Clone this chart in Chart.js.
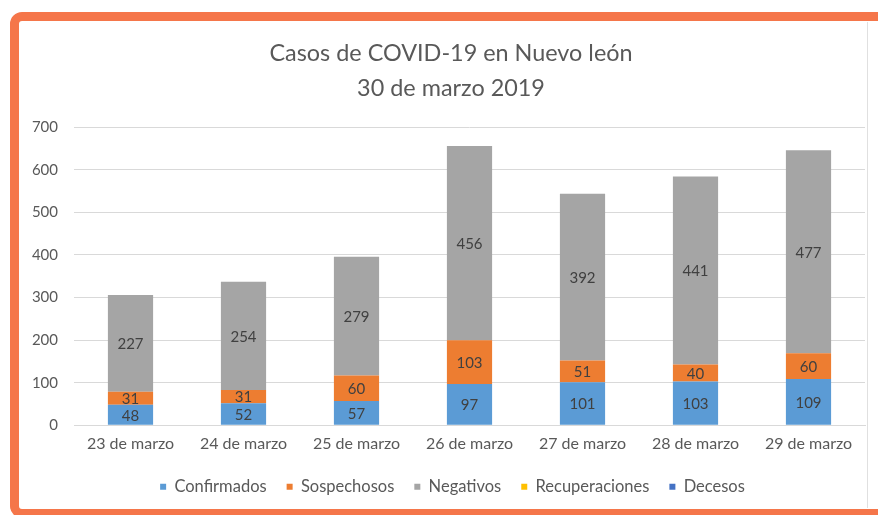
<!DOCTYPE html>
<html>
<head>
<meta charset="utf-8">
<script src="https://cdn.jsdelivr.net/npm/chart.js@4.4.0/dist/chart.umd.min.js"></script>
<style>
  html, body { margin: 0; padding: 0; background: #fff; overflow: hidden; }
  #wrap { position: relative; width: 878px; height: 515px; }
  #frame { position: absolute; left: 10px; top: 12px; width: 900px; height: 488px;
           border: 9px solid #f5764a; border-radius: 12px; }
  #edge { position: absolute; left: 867px; top: 22px; width: 1px; height: 486px; background: #e0e0e0; }
  #canvas { position: absolute; left: 0; top: 0; }
</style>
</head>
<body>
<div id="wrap">
  <div id="frame"></div>
  <div id="edge"></div>
  <canvas id="canvas" width="878" height="515"></canvas>
</div>
<script>
var canvas = document.getElementById("canvas");
var ctx = canvas.getContext("2d");

// data
const labels = ["23 de marzo", "24 de marzo", "25 de marzo", "26 de marzo", "27 de marzo", "28 de marzo", "29 de marzo"];
const confirmados = [48, 52, 57, 97, 101, 103, 109];
const sospechosos = [31, 31, 60, 103, 51, 40, 60];
const negativos = [227, 254, 279, 456, 392, 441, 477];
const recuperaciones = [0, 0, 0, 0, 0, 0, 0];
const decesos = [0, 0, 0, 0, 0, 0, 0];
const yTicks = [0, 100, 200, 300, 400, 500, 600, 700];

const textColor = "#595959";
const font = "Lato, 'Open Sans', sans-serif";

// labels in the middle of each segment
const segmentLabels = {
    id: "segmentLabels",
    afterLayout(chart) {
        // title and legend sit a bit right of the canvas centre in the original
        chart.titleBlock.left += 8.5;
        chart.titleBlock.right += 8.5;
        chart.legend.left += 10;
        chart.legend.right += 10;
    },
    afterDatasetsDraw(chart) {
        const c = chart.ctx;
        c.save();
        c.font = "15px " + font;
        c.fillStyle = "#404040";
        c.textAlign = "center";
        c.textBaseline = "middle";
        chart.data.datasets.forEach((ds, i) => {
            const meta = chart.getDatasetMeta(i);
            meta.data.forEach((bar, j) => {
                if (!ds.data[j]) return;
                c.fillText(ds.data[j], bar.x, (bar.y + bar.base) / 2 + 1);
            });
        });
        c.restore();
    }
};

function ds(label, data, color) {
    return { label: label, data: data, backgroundColor: color, borderWidth: 0,
             categoryPercentage: 1, barPercentage: 0.4 };
}

var myChart = new Chart(ctx, {
    type: "bar",
    data: {
        labels: labels,
        datasets: [
            ds("Confirmados", confirmados, "#5b9bd5"),
            ds("Sospechosos", sospechosos, "#ed7d31"),
            ds("Negativos", negativos, "#a5a5a5"),
            ds("Recuperaciones", recuperaciones, "#ffc000"),
            ds("Decesos", decesos, "#4472c4")
        ]
    },
    options: {
        responsive: false,
        animation: false,
        layout: { padding: { left: 20, right: 13, top: 0, bottom: 10 } },
        plugins: {
            title: {
                display: true,
                text: ["Casos de COVID-19 en Nuevo león", "30 de marzo 2019"],
                color: textColor,
                font: { family: font, size: 23.4, weight: "normal", lineHeight: 1.5 },
                padding: { top: 36, bottom: 21 }
            },
            legend: {
                position: "bottom",
                labels: {
                    color: textColor,
                    font: { family: font, size: 16.5 },
                    boxWidth: 6, boxHeight: 6, padding: 20
                }
            },
            tooltip: { enabled: false }
        },
        scales: {
            x: {
                stacked: true,
                afterFit: s => { s.height += 4; },
                grid: { display: false },
                border: { color: "#d9d9d9" },
                ticks: { color: textColor, font: { family: font, size: 16 }, padding: 1 }
            },
            y: {
                stacked: true,
                min: 0, max: 700,
                afterFit: s => { s.width = 54; },
                afterBuildTicks: s => { s.ticks = yTicks.map(v => ({ value: v })); },
                grid: { color: "#d9d9d9", drawTicks: false },
                border: { display: false },
                ticks: { color: textColor, font: { family: font, size: 15 }, padding: 16 }
            }
        }
    },
    plugins: [segmentLabels]
});
</script>
</body>
</html>
